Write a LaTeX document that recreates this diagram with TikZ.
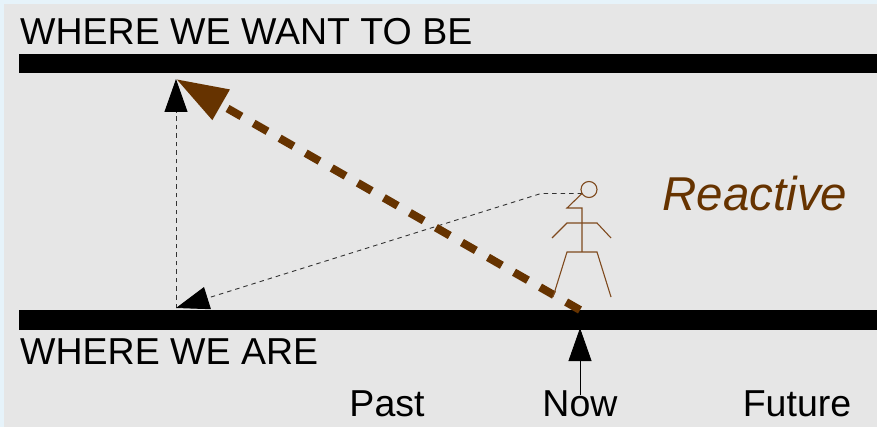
\documentclass[tikz,border=0pt]{standalone}
\usepackage{fontspec}
\setmainfont{Liberation Sans}
\usetikzlibrary{arrows.meta}
\definecolor{brownc}{HTML}{663300}
\definecolor{figc}{HTML}{7F4A1E}
\definecolor{panel}{HTML}{E6E6E6}
\definecolor{bluebg}{HTML}{E6F3FA}
\tikzset{
  x=1pt,y=-1pt,
  bar/.style={fill=black,draw=none,inner sep=0pt,outer sep=0pt,minimum width=858pt,minimum height=19.5pt,anchor=west},
  lab/.style={font=\fontsize{37.5}{37.5}\selectfont,inner sep=0pt,anchor=base west,text=black},
  blacktip/.style={-{Triangle[length=33pt,width=23pt,fill=black,color=black]}},
  thindash/.style={line width=0.9pt,black!80,dash pattern=on 4.5pt off 4pt},
  fig/.style={line width=1.1pt,figc},
}
\begin{document}
\begin{tikzpicture}
\useasboundingbox (0,0) rectangle (877,427);
\fill[bluebg] (0,0) rectangle (877,427);
\fill[panel] (4,4) rectangle (877,427);
\node[bar] (top) at (19,63.5) {};
\node[bar] (bottom) at (19,320) {};
\node[lab] (want) at (20,45) {WHERE WE WANT TO BE};
\node[lab] (are) at (20,364) {WHERE WE ARE};
\node[lab,anchor=base] (past) at (387,416) {Past};
\node[lab,anchor=base] (now) at (580,416) {Now};
\node[lab,anchor=base] (future) at (797,416) {Future};
\node[lab,anchor=base,text=brownc,font=\fontsize{47.5}{47.5}\selectfont\itshape] (reactive) at (755,211) {Reactive};
\coordinate (goal) at (176,79);
\coordinate (start) at (176,308);
\coordinate (nowtop) at (580,310);
\coordinate (nowtip) at (580,328);
\coordinate (nowtail) at (580,395);
\coordinate (bend) at (541,193.5);
\coordinate (headleft) at (582,193.5);
\node[circle,draw=figc,line width=1.1pt,minimum size=16pt,inner sep=0pt] (head) at (589,189.5) {};
\draw[thindash,blacktip] (start) -- (goal);
\draw[thindash,blacktip] (headleft) -- (bend) -- (start);
\draw[-{Triangle[length=52pt,width=33pt,fill=brownc]},brownc,line width=8pt,dash pattern=on 16pt off 14pt] (nowtop) -- (goal);
\draw[blacktip,black,line width=0.8pt] (nowtail) -- (nowtip);
\draw[fig] (headleft) -- (567,208) -- (582,208) -- (582,252);
\draw[fig] (552,238) -- (567,223) -- (597,223) -- (611,238);
\draw[fig] (553,297) -- (567,252) -- (597,252) -- (611,297);
\end{tikzpicture}
\end{document}
